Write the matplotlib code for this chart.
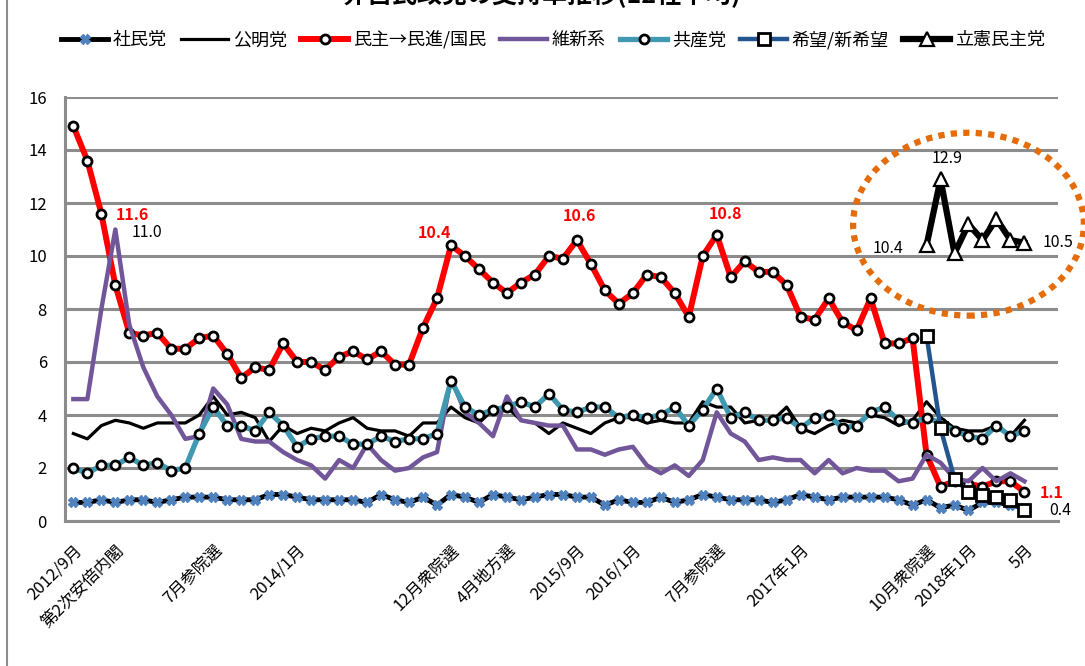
import numpy as np
import matplotlib
matplotlib.use('Agg')
import matplotlib.pyplot as plt
from matplotlib.patches import Ellipse
from matplotlib.lines import Line2D

plt.rcParams['font.family'] = ['Noto Sans CJK JP', 'DejaVu Sans']

# monthly, 2012/9 .. 2018/5
n_months = 69
shamin = [0.7, 0.7, 0.8, 0.7, 0.8, 0.8, 0.7, 0.8, 0.9, 0.9,
          0.9, 0.8, 0.8, 0.8, 1.0, 1.0, 0.9, 0.8, 0.8, 0.8,
          0.8, 0.7, 1.0, 0.8, 0.7, 0.9, 0.6, 1.0, 0.9, 0.7,
          1.0, 0.9, 0.8, 0.9, 1.0, 1.0, 0.9, 0.9, 0.6, 0.8,
          0.7, 0.7, 0.9, 0.7, 0.8, 1.0, 0.9, 0.8, 0.8, 0.8,
          0.7, 0.8, 1.0, 0.9, 0.8, 0.9, 0.9, 0.9, 0.9, 0.8,
          0.6, 0.8, 0.5, 0.6, 0.4, 0.7, 0.7, 0.6, 0.5]
komei = [3.3, 3.1, 3.6, 3.8, 3.7, 3.5, 3.7, 3.7, 3.7, 4.0,
         4.7, 4.0, 4.1, 3.9, 3.0, 3.6, 3.3, 3.5, 3.4, 3.7,
         3.9, 3.5, 3.4, 3.4, 3.2, 3.7, 3.7, 4.3, 3.9, 3.7,
         4.2, 4.3, 3.8, 3.7, 3.3, 3.7, 3.5, 3.3, 3.7, 3.9,
         3.9, 3.7, 3.8, 3.7, 3.7, 4.5, 4.3, 4.3, 3.7, 3.8,
         3.8, 4.3, 3.5, 3.3, 3.6, 3.8, 3.7, 4.0, 3.9, 3.6,
         3.8, 4.5, 3.9, 3.5, 3.4, 3.4, 3.6, 3.2, 3.8]
minshu = [14.9, 13.6, 11.6, 8.9, 7.1, 7.0, 7.1, 6.5, 6.5, 6.9,
          7.0, 6.3, 5.4, 5.8, 5.7, 6.7, 6.0, 6.0, 5.7, 6.2,
          6.4, 6.1, 6.4, 5.9, 5.9, 7.3, 8.4, 10.4, 10.0, 9.5,
          9.0, 8.6, 9.0, 9.3, 10.0, 9.9, 10.6, 9.7, 8.7, 8.2,
          8.6, 9.3, 9.2, 8.6, 7.7, 10.0, 10.8, 9.2, 9.8, 9.4,
          9.4, 8.9, 7.7, 7.6, 8.4, 7.5, 7.2, 8.4, 6.7, 6.7,
          6.9, 2.5, 1.3, 1.5, 1.4, 1.3, 1.5, 1.5, 1.1]
ishin = [4.6, 4.6, 8.0, 11.0, 7.4, 5.8, 4.7, 4.0, 3.1, 3.2,
         5.0, 4.4, 3.1, 3.0, 3.0, 2.6, 2.3, 2.1, 1.6, 2.3,
         2.0, 2.9, 2.3, 1.9, 2.0, 2.4, 2.6, 5.4, 4.1, 3.7,
         3.2, 4.7, 3.8, 3.7, 3.6, 3.6, 2.7, 2.7, 2.5, 2.7,
         2.8, 2.1, 1.8, 2.1, 1.7, 2.3, 4.1, 3.3, 3.0, 2.3,
         2.4, 2.3, 2.3, 1.8, 2.3, 1.8, 2.0, 1.9, 1.9, 1.5,
         1.6, 2.5, 2.2, 1.6, 1.5, 2.0, 1.5, 1.8, 1.5]
kyosan = [2.0, 1.8, 2.1, 2.1, 2.4, 2.1, 2.2, 1.9, 2.0, 3.3,
          4.3, 3.6, 3.6, 3.4, 4.1, 3.6, 2.8, 3.1, 3.2, 3.2,
          2.9, 2.9, 3.2, 3.0, 3.1, 3.1, 3.3, 5.3, 4.3, 4.0,
          4.2, 4.3, 4.5, 4.3, 4.8, 4.2, 4.1, 4.3, 4.3, 3.9,
          4.0, 3.9, 4.0, 4.3, 3.6, 4.2, 5.0, 3.9, 4.1, 3.8,
          3.8, 3.9, 3.5, 3.9, 4.0, 3.5, 3.6, 4.1, 4.3, 3.8,
          3.7, 3.9, 3.7, 3.4, 3.2, 3.1, 3.6, 3.2, 3.4]
kibo = [None] * 61 + [7.0, 3.5, 1.6, 1.1, 1.0, 0.9, 0.8, 0.4]
rikken = [None] * 61 + [10.4, 12.9, 10.1, 11.2, 10.6, 11.4, 10.6, 10.5]

tick_months = [0, 3, 10, 16, 27, 31, 36, 40, 46, 52, 61, 64, 68]
tick_labels = ['2012/9月', '第2次安倍内閣', '7月参院選', '2014/1月', '12月衆院選',
               '4月地方選', '2015/9月', '2016/1月', '7月参院選', '2017年1月',
               '10月衆院選', '2018年1月', '5月']

x = np.arange(n_months)
kibo = np.array(kibo, dtype=float)
rikken = np.array(rikken, dtype=float)

fig = plt.figure(figsize=(10.85, 6.66), dpi=100)
ax = fig.add_axes([65/1085, 1 - 521/666, (1058 - 65)/1085, (521 - 97)/666])

grid_c = '#8c8c8c'
ax.set_ylim(0, 16)
ax.set_xlim(-0.6, 70.4)
ax.set_yticks(range(0, 17, 2))
ax.yaxis.grid(True, color=grid_c, lw=2.2)
ax.set_axisbelow(True)
for s in ['top', 'right']:
    ax.spines[s].set_visible(False)
for s in ['left', 'bottom']:
    ax.spines[s].set_color(grid_c)
    ax.spines[s].set_linewidth(2.2)

ax.plot(x, shamin, color='black', lw=3.5, marker='X', ms=7, mfc='#4f81bd',
        mec='#4f81bd', label='社民党')
ax.plot(x, komei, color='black', lw=2.3, label='公明党')
ax.plot(x, minshu, color='#ff0000', lw=4.3, marker='o', ms=6.5, mfc='white',
        mec='black', mew=2, label='民主→民進/国民')
ax.plot(x, ishin, color='#72569a', lw=3.2, label='維新系')
ax.plot(x, kyosan, color='#4099b0', lw=3.8, marker='o', ms=6.5, mfc='white',
        mec='black', mew=2, label='共産党')
ax.plot(x, kibo, color='#23568f', lw=3.2, marker='s', ms=9, mfc='white',
        mec='black', mew=2, label='希望/新希望')
ax.plot(x, rikken, color='black', lw=4.5, marker='^', ms=10, mfc='white',
        mec='black', mew=1.6, label='立憲民主党')

ax.set_xticks(tick_months)
ax.set_xticklabels(tick_labels, rotation=45, ha='right', va='top',
                   rotation_mode='anchor', fontsize=12)
ax.tick_params(axis='x', length=0, pad=15)
ax.tick_params(axis='y', length=0, pad=13, labelsize=12)

# value labels
def note(i, series, text, dx, dy, color='black', bold=False, ha='center'):
    ax.annotate(text, (i, series[i]), xytext=(dx, dy), textcoords='offset points',
                ha=ha, va='center', fontsize=11.5, color=color,
                fontweight='bold' if bold else 'normal')

note(2, minshu, '11.6', 10, -1, color='#ff0000', bold=True, ha='left')
note(3, ishin, '11.0', 12, -2, ha='left')
note(27, minshu, '10.4', 0, 9, color='#ff0000', bold=True, ha='right')
note(36, minshu, '10.6', 2, 17, color='#ff0000', bold=True)
note(46, minshu, '10.8', 6, 15, color='#ff0000', bold=True)
note(62, rikken, '12.9', 5, 15)
note(61, rikken, '10.4', -17, -2, ha='right')
note(68, rikken, '10.5', 13, 0, ha='left')
note(68, minshu, '1.1', 11, -1, color='#ff0000', bold=True, ha='left')
note(68, kibo, '0.4', 18, 0, ha='left')

# highlight for 立憲民主党
ell = Ellipse((64.0, 11.2), 16.5, 6.9, fill=False, edgecolor='#e46c0a',
              lw=4.5, linestyle=(0, (1, 1)), clip_on=False, zorder=1)
ax.add_patch(ell)

fig.legend(loc='center', bbox_to_anchor=(553/1085, 1 - 40/666), ncol=7,
           frameon=False, fontsize=13, handlelength=2.6, handletextpad=0.25,
           columnspacing=0.8)

fig.text(542/1085, 1 - 3/666, '非自民政党の支持率推移(12社平均)', ha='center',
         va='baseline', fontsize=18, fontweight='bold')
fig.add_artist(Line2D([7/1085, 7/1085], [0, 1], color=grid_c, lw=1.5))

fig.savefig('out.png', dpi=100)
